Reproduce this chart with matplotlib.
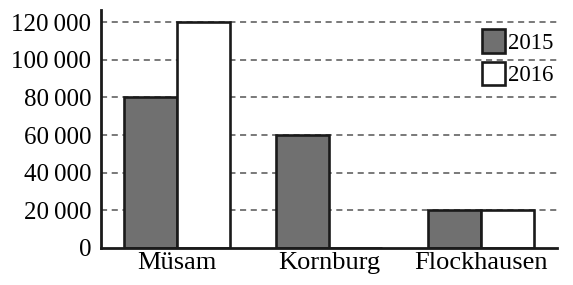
import numpy as np
import matplotlib.pyplot as plt
from matplotlib.ticker import FuncFormatter

plt.rcParams['font.family'] = ['Liberation Serif', 'DejaVu Serif']

towns = ['Müsam', 'Kornburg', 'Flockhausen']
years = ['2015', '2016']
values_2015 = [80000, 60000, 20000]
values_2016 = [120000, 0, 20000]
yticks = [0, 20000, 40000, 60000, 80000, 100000, 120000]


def thousands(v, pos):
    s = '{:,.0f}'.format(v)
    return s.replace(',', '\u2009')


fig = plt.figure(figsize=(5.73, 2.85), dpi=100)
ax = fig.add_axes([0.176, 0.130, 0.796, 0.835])

x = np.arange(len(towns))
w = 0.35
ax.bar(x - w / 2, values_2015, w, color='#707070', edgecolor='#1a1a1a',
       linewidth=1.9, label=years[0], zorder=3)
ax.bar(x + w / 2, values_2016, w, color='white', edgecolor='#1a1a1a',
       linewidth=1.9, label=years[1], zorder=3)

ax.set_xlim(-0.5, 2.5)
ax.set_ylim(0, 126500)
ax.set_yticks(yticks)
ax.yaxis.set_major_formatter(FuncFormatter(thousands))
ax.set_xticks(x)
ax.set_xticklabels(towns, fontsize=19)
ax.tick_params(axis='both', length=0, pad=3)
ax.tick_params(axis='y', labelsize=18, pad=7)

for t in yticks[1:]:
    ax.axhline(t, color='#555555', linewidth=1.1, linestyle=(0, (4, 3)), zorder=1)

for s in ['top', 'right']:
    ax.spines[s].set_visible(False)
for s in ['left', 'bottom']:
    ax.spines[s].set_linewidth(2)
    ax.spines[s].set_color('#1a1a1a')
    ax.spines[s].set_zorder(4)

leg = ax.legend(loc='upper right', bbox_to_anchor=(0.982, 0.93),
                bbox_transform=fig.transFigure, frameon=False, fontsize=16.5,
                handlelength=1.0, handleheight=1.2, handletextpad=0.12,
                labelspacing=0.35, borderaxespad=0)
leg.set_zorder(5)

fig.savefig('out.png', dpi=100)
